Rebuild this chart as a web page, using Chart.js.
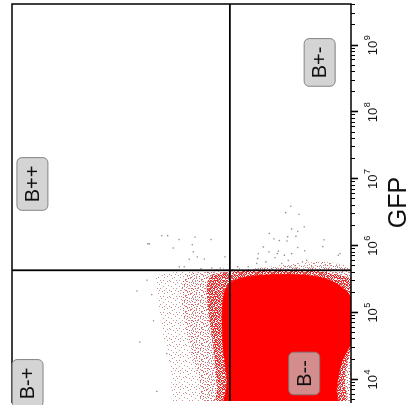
<!DOCTYPE html>
<html><head><meta charset="utf-8">
<script src="https://cdn.jsdelivr.net/npm/chart.js@4.4.1/dist/chart.umd.min.js"></script>
<style>
html,body{margin:0;padding:0;background:#fff;}
#wrap{position:relative;width:408px;height:405px;overflow:hidden;background:#fff;}
#rot{position:absolute;left:0;top:0;width:405px;height:408px;transform-origin:0 0;transform:translate(0px,405px) rotate(-90deg);}
</style></head><body>
<div id="wrap"><div id="rot"><canvas id="c" width="405" height="408"></canvas></div></div>
<script>
// ---- axis / labels ----
const xAxisTitle = 'GFP';
const gfpTickValues = [1e4, 1e5, 1e6, 1e7, 1e8, 1e9];
const gfpTickBase = '10';
const gfpTickExponents = ['4', '5', '6', '7', '8', '9'];
const gfpRange = [4.8e3, 4.19e9];
const yRange = [1e3, 1e8];

// ---- quadrant gates ----
const gateGFP = 4.34e5;
const gateY = 6.1e4;
const quadrantNames = ['B-+', 'B++', 'B--', 'B+-'];
const quadrantGFP = [8.8e3, 8.5e6, 1.24e4, 5.6e8];
const quadrantY = [5.9e7, 5.0e7, 4.9e3, 2.9e3];

// ---- dense population outline (solid) ----
const coreGFP = [2.79e5, 3.3e5, 3.66e5, 3.79e5, 3.54e5, 2.99e5, 2.28e5, 1.68e5, 3.66e4, 1.86e4, 7.96e3, 2.9e3, 2.9e3, 9.4e3, 3.09e4, 1.01e5, 1.99e5, 2.79e5];
const coreY   = [6.3e4, 4.34e4, 2.2e4, 7.9e3, 3.4e3, 1.9e3, 1.27e3, 1e3, 1e3, 1.36e3, 1.61e3, 1.72e3, 6.98e4, 6.75e4, 7.73e4, 8.0e4, 7.47e4, 6.3e4];

// ---- dense fringe ----
const innerGFP = [3.79e5, 4.19e5, 4.26e5, 4.19e5, 3.66e5, 3.09e5, 3.66e4, 1.12e4, 2.9e3, 2.9e3, 7.96e3, 3.09e4, 1.2e5, 2.79e5, 3.79e5];
const innerY   = [1.12e5, 5.14e4, 1.11e4, 2.86e3, 1.45e3, 1e3, 1e3, 1.23e3, 1.31e3, 9.2e4, 9.5e4, 1.08e5, 1.29e5, 1.33e5, 1.12e5];

// ---- medium fringe ----
const midGFP = [3.92e5, 4.26e5, 4.26e5, 2.9e3, 2.9e3, 7.96e3, 3.09e4, 1.68e5, 3.09e5, 3.92e5];
const midY   = [2.54e5, 6.1e4, 1e3, 1e3, 1.58e5, 1.69e5, 2.37e5, 3.21e5, 3.0e5, 2.54e5];

// ---- sparse fringe ----
const outerGFP = [3.79e5, 4.48e5, 4.8e5, 4.34e5, 2.9e3, 2.9e3, 1.57e4, 6.08e4, 1.99e5, 3.09e5, 3.79e5];
const outerY   = [6.56e5, 1.69e5, 5.65e3, 1e3, 1e3, 3.33e5, 4.68e5, 6.14e5, 7.26e5, 7.78e5, 6.56e5];

// ---- isolated events ----
const eventsGFP = [3.95e6, 3.16e6, 2.99e6, 1.94e6, 1.55e6, 1.8e6, 1.66e6, 1.4e6, 1.28e6, 1.21e6, 1.38e6, 1.19e6, 1.24e6,
  9.7e5, 8.2e5, 8.4e5, 7.7e5, 6.7e5, 7.3e5, 7.7e5, 9.5e5, 7.7e5, 6.5e5, 5.5e5, 5.8e5, 5.5e5, 6.1e5, 4.9e5, 5.8e5, 6.1e5,
  7.3e5, 5.2e5, 4.9e5, 4.9e5, 4.6e5, 4.6e5, 4.9e5, 4.7e5, 4.9e5, 1.43e6, 1.43e6, 1.25e6, 1.36e6, 1.25e6, 1.08e6, 1.05e6,
  9.35e5, 8.2e5, 6.9e5, 6.35e5, 6.4e5, 6.9e5, 4.9e5, 4.9e5, 4.6e5, 4.7e5, 4.7e5, 1.08e6, 3.09e5, 2.13e5, 3.66e4, 1.88e5,
  7.6e4, 2.46e4, 6.7e3, 8.5e5, 9.8e5, 7.7e5, 5.1e5];
const eventsY = [7.75e3, 9.2e3, 5.85e3, 4.89e3, 1.6e4, 7.5e3, 6.1e3, 6.5e3, 1.37e4, 1.14e4, 8.6e3, 8.8e3, 2.5e3,
  1.96e4, 1.62e4, 1.18e4, 1.22e4, 1.32e4, 9.6e3, 7.5e3, 6.1e3, 2.33e4, 2.38e4, 2.46e4, 1.8e4, 1.05e4, 8.4e3, 7.9e3, 5.2e3, 4.5e3,
  1.54e3, 2.4e3, 4.7e4, 3.27e4, 2.33e4, 1.48e4, 9.4e3, 6.5e3, 3.8e3, 6.2e5, 5.06e5, 3.44e5, 2.0e5, 1.16e5, 9.4e5, 2.19e5,
  4.18e5, 2.12e5, 1.85e5, 2.43e5, 1.46e5, 7.2e4, 3.4e5, 2.88e5, 1.63e5, 1.13e5, 8.5e4, 9.9e5, 1.02e6, 1.43e6, 1.3e6, 8.7e5,
  8.2e5, 5.2e5, 7.3e5, 4.8e3, 2.6e3, 1.45e3, 6.7e3];

const FONT = '"Liberation Sans", Arial, Helvetica, sans-serif';

function zip(xs, ys) { return xs.map((v, i) => ({ x: v, y: ys[i] })); }

function makePattern(rows, colors) {
  const h = rows.length, w = 16;
  const c = document.createElement('canvas'); c.width = w; c.height = h;
  const g = c.getContext('2d');
  rows.forEach((r, j) => { for (let i = 0; i < r.length; i++) { const k = r[i]; if (colors[k]) { g.fillStyle = colors[k]; g.fillRect(i, j, 1, 1); } } });
  return document.getElementById('c').getContext('2d').createPattern(c, 'repeat');
}
const innerPattern = makePattern([
  'R.Rp..RR.R.pR..R',
  '.RR.R.p.RR.R..Rp',
  'R..RRp.R..RpR.R.',
  '.pR..R.RRp..R.RR',
  'RR.p.RR..R.R.p.R',
  '..R.R..pR.RR..R.',
  'R.pRR.R..R..RpR.',
  '.R...RpR.pR.R..R',
  'pR.R.R..RR..R.Rp',
  'R..pR.R.p..RR.R.',
  '.RR..R.RR.R.p..R',
  'R.p.R..R.pR..RR.',
  '.R.RR.p..R.RR.pR',
  'pR...R.RR.p..R..',
  'R.R.pR..R.R.R.pR',
  '.R.R..RpR..RR..R'
], { R: 'rgba(245,20,20,0.95)', p: 'rgba(200,105,105,0.9)' });
const midPattern = makePattern([
  'p...g..R...p....',
  '...R.....g...p..',
  '.g....p.......R.',
  '....R....p.g....',
  'p.......R.....g.',
  '..p.g.......p...',
  '.....R..p.......',
  'R..........R..p.',
  '...p..g.R.......',
  '.........p...R..',
  '..R..p.......g..',
  'g.......R..p....',
  '....p.........R.',
  '.R.....g..R.....',
  '......p.......p.',
  '..g.R.....g....R'
], { p: 'rgba(195,115,115,0.85)', g: 'rgba(160,130,130,0.85)', R: 'rgba(230,50,50,0.85)' });
const outerPattern = makePattern([
  '....g.......r...',
  '..........g.....',
  '.r..............',
  '......r.....g...',
  '..g............r',
  '.........g......',
  '....r...........',
  'g..........r....',
  '.......g........',
  '..r.........g...',
  '...........r....',
  '.g....g.........',
  '..............g.',
  '....r.....g.....',
  '...............r',
  '..g.....r.......'
], { g: 'rgba(160,130,130,0.8)', r: 'rgba(195,115,115,0.8)' });

const decor = {
  id: 'decor',
  afterDraw(chart) {
    const { ctx, chartArea: a, scales: { x, y } } = chart;
    ctx.save();
    // frame
    ctx.strokeStyle = '#000'; ctx.lineWidth = 1.5;
    ctx.beginPath();
    ctx.moveTo(a.left - 2, a.top); ctx.lineTo(a.right, a.top); ctx.lineTo(a.right, a.bottom); ctx.lineTo(a.left - 2, a.bottom);
    ctx.stroke();
    // tick marks
    for (let e = 3; e <= 9; e++) {
      for (let k = 1; k <= 9; k++) {
        const v = k * Math.pow(10, e);
        if (v < gfpRange[0] || v > gfpRange[1]) continue;
        const px = Math.round(x.getPixelForValue(v)) + 0.5;
        const len = k === 1 ? 7 : 4;
        ctx.lineWidth = k === 1 ? 1.6 : 1;
        ctx.beginPath(); ctx.moveTo(px, a.bottom); ctx.lineTo(px, a.bottom + len); ctx.stroke();
      }
    }
    // tick labels
    ctx.fillStyle = '#111';
    ctx.textBaseline = 'alphabetic';
    gfpTickValues.forEach((v, i) => {
      const px = x.getPixelForValue(v);
      ctx.font = '13px ' + FONT;
      const wb = ctx.measureText(gfpTickBase).width;
      ctx.font = '9px ' + FONT;
      const we = ctx.measureText(gfpTickExponents[i]).width;
      const s = px - (wb + we) / 2;
      ctx.font = '13px ' + FONT; ctx.textAlign = 'left';
      ctx.fillText(gfpTickBase, s, a.bottom + 26);
      ctx.font = '9px ' + FONT;
      ctx.fillText(gfpTickExponents[i], s + wb + 0.5, a.bottom + 19);
    });
    // axis title
    ctx.font = '25px ' + FONT; ctx.textAlign = 'center';
    ctx.fillText(xAxisTitle, (a.left + a.right) / 2, a.bottom + 55);
    // quadrant labels
    ctx.font = '20px ' + FONT;
    quadrantNames.forEach((n, i) => {
      const cx = x.getPixelForValue(quadrantGFP[i]);
      const cy = y.getPixelForValue(quadrantY[i]);
      const w = ctx.measureText(n).width + 16, h = 31;
      ctx.beginPath();
      ctx.roundRect(cx - w / 2, cy - h / 2, w, h, 5);
      ctx.fillStyle = 'rgba(195,195,195,0.72)'; ctx.fill();
      ctx.strokeStyle = 'rgba(120,120,120,0.9)'; ctx.lineWidth = 1; ctx.stroke();
      ctx.fillStyle = '#111'; ctx.textAlign = 'center'; ctx.textBaseline = 'middle';
      ctx.fillText(n, cx, cy + 1);
    });
    ctx.restore();
  }
};

const area = (label, xs, ys, bg, order) => ({ label, data: zip(xs, ys), showLine: true, fill: 'shape', backgroundColor: bg,
  borderColor: 'rgba(0,0,0,0)', borderWidth: 0, pointRadius: 0, tension: 0.3, order });

new Chart(document.getElementById('c'), {
  type: 'scatter',
  data: {
    datasets: [
      { label: 'events', data: zip(eventsGFP, eventsY), pointRadius: 0.8, pointBorderWidth: 0,
        pointBackgroundColor: 'rgba(130,110,110,0.8)', showLine: false, order: 1 },
      { label: 'gateGFP', data: [{ x: gateGFP, y: yRange[0] }, { x: gateGFP, y: yRange[1] }], showLine: true,
        borderColor: '#000', borderWidth: 1.8, pointRadius: 0, order: 2 },
      { label: 'gateY', data: [{ x: gfpRange[0] / 2, y: gateY }, { x: gfpRange[1], y: gateY }], showLine: true,
        borderColor: '#000', borderWidth: 1.8, pointRadius: 0, order: 2 },
      Object.assign(area('core', coreGFP, coreY, '#ff0000', 3), { borderColor: 'rgba(255,0,0,0.5)', borderWidth: 1 }),
      area('inner', innerGFP, innerY, innerPattern, 4),
      area('mid', midGFP, midY, midPattern, 5),
      area('outer', outerGFP, outerY, outerPattern, 6)
    ]
  },
  options: {
    responsive: false, animation: false, events: [],
    layout: { padding: { left: 0, right: 1, top: 12, bottom: 57 } },
    plugins: { legend: { display: false }, tooltip: { enabled: false } },
    scales: {
      x: { type: 'logarithmic', min: gfpRange[0], max: gfpRange[1], display: false },
      y: { type: 'logarithmic', min: yRange[0], max: yRange[1], display: false }
    }
  },
  plugins: [decor]
});
</script>
</body></html>
